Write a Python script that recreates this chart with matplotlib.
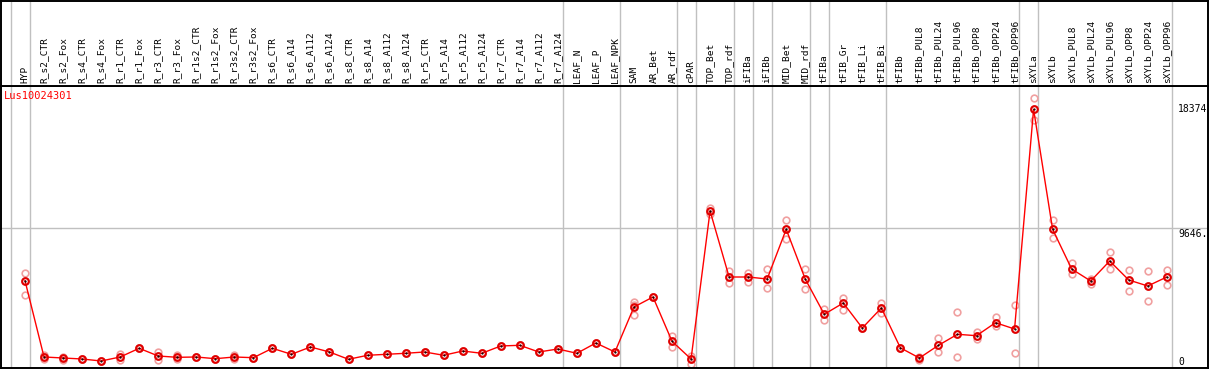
import matplotlib
matplotlib.use("Agg")
import matplotlib.pyplot as plt
import numpy as np

gene = "Lus10024301"

samples = ["HYP",
           "R_s2_CTR", "R_s2_Fox", "R_s4_CTR", "R_s4_Fox", "R_r1_CTR", "R_r1_Fox",
           "R_r3_CTR", "R_r3_Fox", "R_r1s2_CTR", "R_r1s2_Fox", "R_r3s2_CTR", "R_r3s2_Fox",
           "R_s6_CTR", "R_s6_A14", "R_s6_A112", "R_s6_A124",
           "R_s8_CTR", "R_s8_A14", "R_s8_A112", "R_s8_A124",
           "R_r5_CTR", "R_r5_A14", "R_r5_A112", "R_r5_A124",
           "R_r7_CTR", "R_r7_A14", "R_r7_A112", "R_r7_A124",
           "LEAF_N", "LEAF_P", "LEAF_NPK", "SAM", "AR_Bet", "AR_rdf", "cPAR",
           "TOP_Bet", "TOP_rdf", "iFIBa", "iFIBb", "MID_Bet", "MID_rdf",
           "tFIBa", "tFIB_Gr", "tFIB_Li", "tFIB_Bi", "tFIBb",
           "tFIBb_PUL8", "tFIBb_PUL24", "tFIBb_PUL96", "tFIBb_OPP8", "tFIBb_OPP24", "tFIBb_OPP96",
           "sXYLa", "sXYLb",
           "sXYLb_PUL8", "sXYLb_PUL24", "sXYLb_PUL96", "sXYLb_OPP8", "sXYLb_OPP24", "sXYLb_OPP96"]

mean_expr = [5996, 682, 613, 543, 404, 682, 1288, 752, 660, 682, 564, 682, 634,
             1288, 870, 1380, 1031, 522, 801, 870, 940, 1031, 801, 1100, 940,
             1449, 1497, 1031, 1240, 940, 1657, 1031, 4164, 4861, 1776, 543,
             10850, 6253, 6253, 6114, 9575, 6114, 3656, 4443, 2702, 4095, 1320,
             613, 1497, 2263, 2166, 3071, 2632, 17932, 9575,
             6811, 5975, 7368, 6045, 5627, 6253]

rep_hi = [6511, 800, 700, 543, 404, 900, 1288, 1000, 800, 682, 564, 800, 634,
          1288, 870, 1380, 1031, 522, 801, 870, 940, 1031, 801, 1100, 940,
          1449, 1497, 1031, 1240, 940, 1657, 1031, 4491, 4861, 2145, 773,
          11080, 6671, 6511, 6811, 10202, 6811, 4046, 4812, 2702, 4422, 1320,
          700, 2006, 3795, 2402, 3447, 4283, 18698, 10202,
          7228, 6135, 7994, 6720, 6671, 6720]

rep_mid = [5996, 682, 613, 543, 404, 682, 1288, 752, 660, 682, 564, 682, 634,
           1288, 870, 1380, 1031, 522, 801, 870, 940, 1031, 801, 1100, 940,
           1449, 1497, 1031, 1240, 940, 1657, 1031, 4300, 4861, 1776, 543,
           10850, 6253, 6253, 6114, 9575, 6114, 3656, 4443, 2702, 4095, 1320,
           613, 1497, 2263, 2166, 3071, 2632, 17932, 9575,
           6811, 5975, 7368, 6045, 5627, 6253]

rep_lo = [4979, 540, 500, 543, 404, 500, 1288, 500, 520, 682, 564, 560, 634,
          1288, 870, 1380, 1031, 522, 801, 870, 940, 1031, 801, 1100, 940,
          1449, 1497, 1031, 1240, 940, 1657, 1031, 3586, 4861, 1400, 195,
          10620, 5815, 5926, 5467, 8900, 5397, 3259, 3934, 2702, 3767, 1320,
          500, 1052, 682, 1936, 2841, 940, 17166, 8948,
          6442, 5766, 6790, 5279, 4582, 5675]

# group boundaries: a grey line after these sample indices
group_ends = [-1, 0, 28, 31, 34, 35, 37, 38, 39, 41, 42, 45, 52, 53, 60]
y_ticks = [0, 9646, 18374]

W, H = 1209, 370
fig = plt.figure(figsize=(W / 100, H / 100), dpi=100)

x0_px, dx_px = 25.0, 19.03
ax_left, ax_right = 0.5, 1207.5
xlim = ((ax_left - x0_px) / dx_px, (ax_right - x0_px) / dx_px)

main_top, main_bot = 86, 368
ax = fig.add_axes([ax_left / W, (H - main_bot) / H,
                   (ax_right - ax_left) / W, (main_bot - main_top) / H])
hd = fig.add_axes([ax_left / W, (H - main_top) / H,
                   (ax_right - ax_left) / W, (main_top - 1) / H])

x = np.arange(len(samples))
grey = "#c0c0c0"
mono = "DejaVu Sans Mono"

for a in (ax, hd):
    a.set_xlim(*xlim)
    a.set_xticks([])
    a.set_yticks([])
    for b in group_ends:
        a.axvline(b + 0.25, color=grey, lw=1.0, zorder=0)
    for s in a.spines.values():
        s.set_linewidth(1.4)
        s.set_color("black")

# header labels
hd.set_ylim(0, 1)
for i, name in enumerate(samples):
    hd.text(i, 0.035, name, rotation=90, ha="center", va="bottom",
            family=mono, fontsize=6.8, color="black")

# main plot
ax.set_ylim(-84, 19554)
ax.axhline(9646, color=grey, lw=1.0, zorder=0)
for reps in (rep_hi, rep_mid, rep_lo):
    ax.plot(x, reps, "o", ms=4.8, mfc="none", mec="#f0a0a0", mew=1.2, zorder=2)
ax.plot(x, mean_expr, "-", color="red", lw=1.0, zorder=3)
ax.plot(x, mean_expr, "o", ms=4.8, mfc="none", mec="#e00000", mew=1.5, zorder=4)
ax.plot(x, mean_expr, ".", ms=1.2, color="black", zorder=5)

ax.text(3 / (ax_right - ax_left), 0.982, gene, transform=ax.transAxes,
        ha="left", va="top", color="red", family=mono, fontsize=7.5)

tx = (1178 - x0_px) / dx_px
for v in y_ticks:
    lab = str(v) if v != 9646 else "9646."
    ax.text(tx, v + (0 if v == 0 else -60), lab, ha="left",
            va="bottom" if v == 0 else "top", family=mono, fontsize=7, color="black")

fig.savefig("out.png", dpi=100)
